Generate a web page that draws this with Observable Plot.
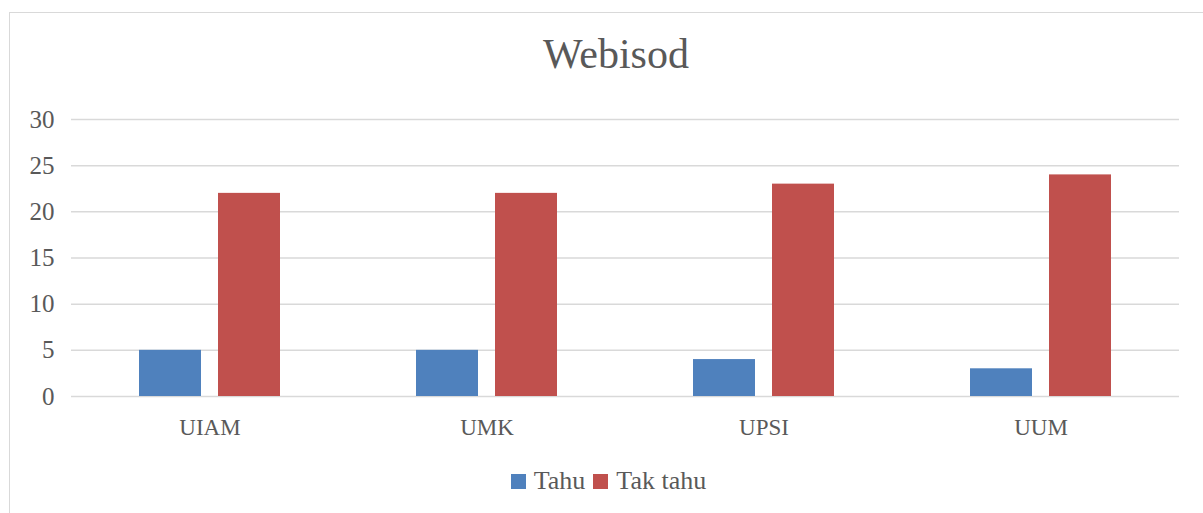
<!DOCTYPE html>
<html>
<head>
<meta charset="utf-8">
<script src="https://cdn.jsdelivr.net/npm/d3@7"></script>
<script src="https://cdn.jsdelivr.net/npm/@observablehq/plot@0.6"></script>
<style>
  html, body { margin: 0; padding: 0; background: #fff; overflow: hidden; }
  body { width: 1203px; height: 513px; position: relative; font-family: "Liberation Serif", "DejaVu Serif", serif; }
  #frame { position: absolute; left: 9px; top: 12px; width: 1212px; height: 520px; border: 1px solid #d9d9d9; box-sizing: border-box; }
  #title { position: absolute; left: 0; top: 33px; width: 1232px; text-align: center; font-size: 42px; line-height: 42px; color: #595959; }
  #chart { position: absolute; left: 0; top: 100px; }
  #legend { position: absolute; left: 0; top: 468px; width: 1217px; display: flex; justify-content: center; align-items: center; font-size: 26px; line-height: 26px; color: #595959; }
  .sw { width: 15px; height: 15px; display: inline-block; margin-right: 8px; }
  .item { display: flex; align-items: center; margin: 0 4px; }
</style>
</head>
<body>
<div id="frame"></div>
<div id="title">Webisod</div>
<div id="chart"></div>
<div id="legend"></div>
<script>
const categories = ["UIAM", "UMK", "UPSI", "UUM"];
const seriesNames = ["Tahu", "Tak tahu"];
const tahu = [5, 5, 4, 3];
const takTahu = [22, 22, 23, 24];
const yTicks = [0, 5, 10, 15, 20, 25, 30];
const colors = ["#4f81bd", "#c0504d"];

const rows = [];
categories.forEach((c, i) => {
  rows.push({category: c, series: seriesNames[0], value: tahu[i]});
  rows.push({category: c, series: seriesNames[1], value: takTahu[i]});
});

const plot = Plot.plot({
  width: 1203,
  height: 350,
  marginLeft: 71,
  marginRight: 24,
  marginTop: 19,
  marginBottom: 54,
  style: { fontFamily: "'Liberation Serif', serif", color: "#595959", background: "transparent" },
  fx: { domain: categories, padding: 0, label: null, axis: null },
  x: { domain: seriesNames, paddingInner: 0.215, paddingOuter: 0.86, axis: null },
  y: { domain: [0, 30], ticks: yTicks, label: null, axis: null },
  color: { domain: seriesNames, range: colors },
  marks: [
    Plot.ruleY(yTicks, { stroke: "#d9d9d9", strokeWidth: 1.5 }),
    Plot.barY(rows, { fx: "category", x: "series", y: "value", fill: "series" }),
    Plot.axisY({ anchor: "left", ticks: yTicks, tickSize: 0, tickPadding: 17, fontSize: 25, label: null }),
    Plot.axisFx({ anchor: "bottom", tickSize: 0, tickPadding: 22, fontSize: 23, label: null })
  ]
});
document.getElementById("chart").appendChild(plot);

const legend = document.getElementById("legend");
seriesNames.forEach((s, i) => {
  const item = document.createElement("span");
  item.className = "item";
  const sw = document.createElement("span");
  sw.className = "sw";
  sw.style.background = colors[i];
  item.appendChild(sw);
  item.appendChild(document.createTextNode(s));
  legend.appendChild(item);
});
</script>
</body>
</html>
